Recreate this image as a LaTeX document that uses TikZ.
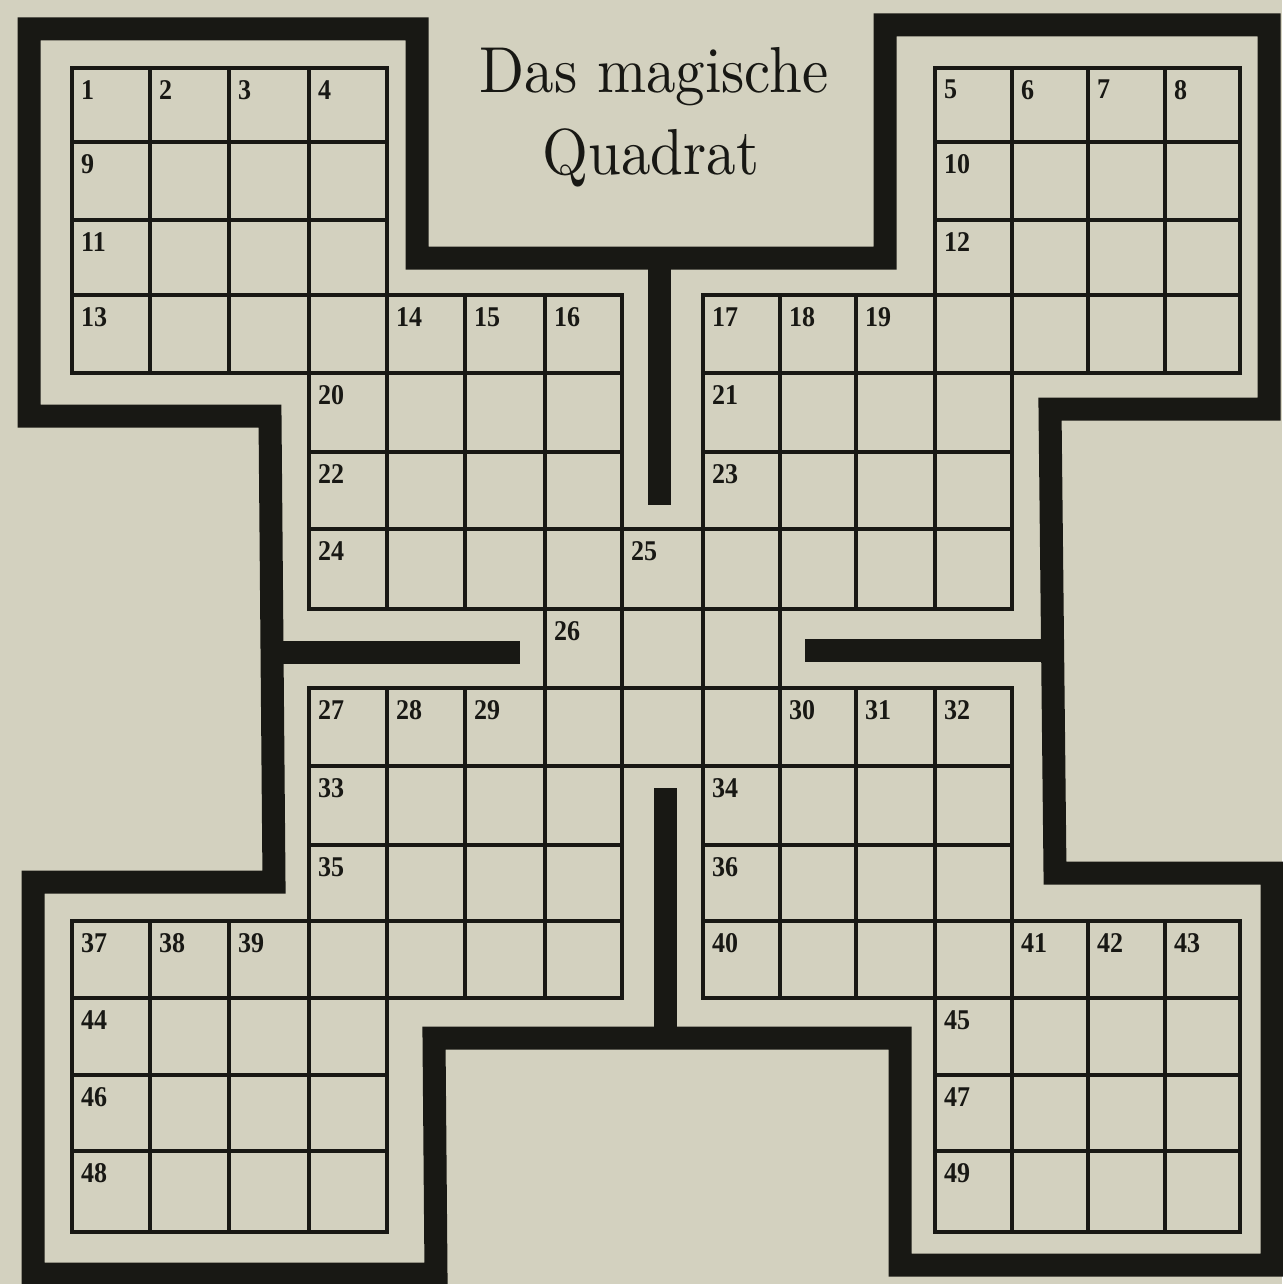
\documentclass[tikz,border=0pt]{standalone}
\usepackage{fontspec}
\newfontfamily\numfont{Liberation Serif}
\definecolor{paper}{RGB}{211,209,191}
\definecolor{ink}{RGB}{24,24,20}
\tikzset{
  gridline/.style={draw=ink, line width=3.2pt, line join=miter},
  wall/.style={draw=ink, line width=23pt, line join=miter},
  wallbar/.style={draw=ink, line width=23pt, line cap=butt},
  num/.style={anchor=north west, inner sep=0pt, text=ink, font=\numfont\fontsize{26}{26}\selectfont\bfseries},
  titletext/.style={anchor=base, inner sep=0pt, text=ink, font=\fontsize{10}{12}\selectfont},
}
\def\xs{{72,150,229,309,387,465,545,622,703,780,856,935,1012,1088,1165,1240}}
\def\ys{{68,142,220,295,373,452,529,609,688,766,845,921,998,1075,1151,1232}}
\begin{document}
\begin{tikzpicture}[x=1pt,y=-1pt]
\useasboundingbox (0,0) rectangle (1282,1284);
\fill[paper] (0,0) rectangle (1282,1284);

% grid cells
\foreach \r/\ca/\cb in {0/0/3, 0/11/14, 1/0/3, 1/11/14, 2/0/3, 2/11/14,
  3/0/6, 3/8/14, 4/3/6, 4/8/11, 5/3/6, 5/8/11, 6/3/11, 7/6/8, 8/3/11,
  9/3/6, 9/8/11, 10/3/6, 10/8/11, 11/0/6, 11/8/14,
  12/0/3, 12/11/14, 13/0/3, 13/11/14, 14/0/3, 14/11/14}{
  \foreach \c in {\ca,...,\cb}{
    \pgfmathsetmacro\xa{\xs[\c]}
    \pgfmathsetmacro\xb{\xs[\c+1]}
    \pgfmathsetmacro\ya{\ys[\r]}
    \pgfmathsetmacro\yb{\ys[\r+1]}
    \draw[gridline] (\xa,\ya) rectangle (\xb,\yb);
  }
}

% numbers
\foreach \n/\r/\c in {1/0/0, 2/0/1, 3/0/2, 4/0/3, 5/0/11, 6/0/12, 7/0/13, 8/0/14,
  9/1/0, 10/1/11, 11/2/0, 12/2/11, 13/3/0, 14/3/4, 15/3/5, 16/3/6,
  17/3/8, 18/3/9, 19/3/10, 20/4/3, 21/4/8, 22/5/3, 23/5/8, 24/6/3, 25/6/7,
  26/7/6, 27/8/3, 28/8/4, 29/8/5, 30/8/9, 31/8/10, 32/8/11,
  33/9/3, 34/9/8, 35/10/3, 36/10/8, 37/11/0, 38/11/1, 39/11/2, 40/11/8,
  41/11/12, 42/11/13, 43/11/14, 44/12/0, 45/12/11, 46/13/0, 47/13/11,
  48/14/0, 49/14/11}{
  \pgfmathsetmacro\xa{\xs[\c]+9}
  \pgfmathsetmacro\ya{\ys[\r]+12}
  \node[num] (n\n) at (\xa,\ya) {\scalebox{1}[1.1]{\n}};
}

% thick outline
\draw[wall] (29,29) -- (417,29) -- (417,258) -- (885,258) -- (885,25)
  -- (1269,25) -- (1269,409) -- (1050,409) -- (1055,873) -- (1272,873)
  -- (1272,1265) -- (900,1265) -- (900,1038) -- (434,1038) -- (436,1274)
  -- (33,1274) -- (33,882) -- (274,882) -- (270,416) -- (29,416) -- cycle;

% inner bars
\coordinate (btop) at (659,258);
\coordinate (btopend) at (659,505);
\coordinate (bleft) at (272,652);
\coordinate (bleftend) at (520,652);
\coordinate (bright) at (1052,650);
\coordinate (brightend) at (805,650);
\coordinate (bbot) at (665,1038);
\coordinate (bbotend) at (665,788);
\draw[wallbar] (btop) -- (btopend);
\draw[wallbar] (bleft) -- (bleftend);
\draw[wallbar] (bright) -- (brightend);
\draw[wallbar] (bbot) -- (bbotend);

% title
\node[titletext] (title1) at (654,93) {\scalebox{5.9}[6.5]{Das magische}};
\node[titletext] (title2) at (651,175) {\scalebox{5.9}[6.5]{Quadrat}};
\end{tikzpicture}
\end{document}
